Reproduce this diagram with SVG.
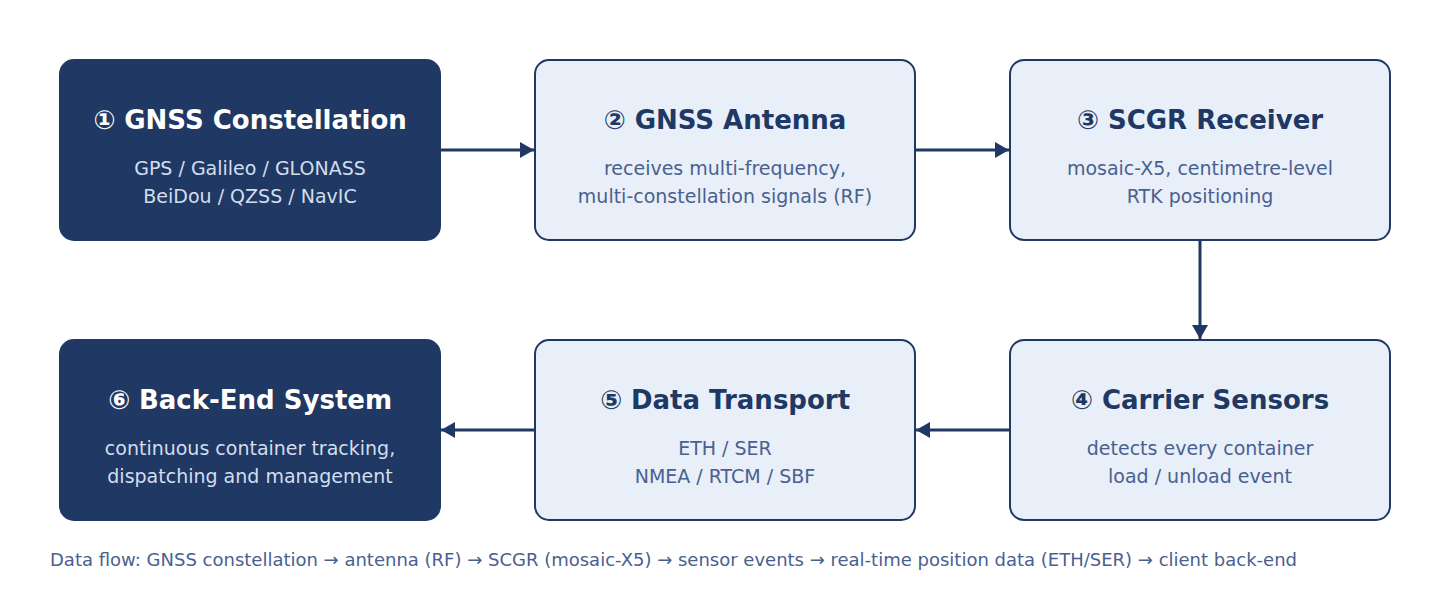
<svg xmlns="http://www.w3.org/2000/svg" width="1450" height="600" viewBox="0 0 1450 600">
<style>
.dark rect{fill:#203864;stroke:#203864;stroke-width:2}
.light rect{fill:#e8eff8;stroke:#203864;stroke-width:2}
text{font-family:"DejaVu Sans",sans-serif;text-anchor:middle}
.t{font-size:26px;font-weight:bold}
.s{font-size:19px}
.dark .t{fill:#ffffff}
.dark .s{fill:#d3deed}
.light .t{fill:#203864}
.light .s{fill:#4a6090}
.cap{font-size:18px;fill:#4a6090;text-anchor:start}
.c line{stroke:#203864;stroke-width:3}
</style>
<defs>
<marker id="ah" markerWidth="14" markerHeight="16" refX="14" refY="8" orient="auto" markerUnits="userSpaceOnUse">
<path d="M0,0 L14,8 L0,16 Z" fill="#203864"/>
</marker>
</defs>
<rect width="1450" height="600" fill="#ffffff"/>
<g id="n1" class="dark"><rect x="60" y="60" width="380" height="180" rx="14"/>
<text class="t" x="250" y="129">① GNSS Constellation</text>
<text class="s" x="250" y="175">GPS / Galileo / GLONASS</text>
<text class="s" x="250" y="203">BeiDou / QZSS / NavIC</text></g>
<g id="n2" class="light"><rect x="535" y="60" width="380" height="180" rx="14"/>
<text class="t" x="725" y="129">② GNSS Antenna</text>
<text class="s" x="725" y="175">receives multi-frequency,</text>
<text class="s" x="725" y="203">multi-constellation signals (RF)</text></g>
<g id="n3" class="light"><rect x="1010" y="60" width="380" height="180" rx="14"/>
<text class="t" x="1200" y="129">③ SCGR Receiver</text>
<text class="s" x="1200" y="175">mosaic-X5, centimetre-level</text>
<text class="s" x="1200" y="203">RTK positioning</text></g>
<g id="n4" class="light"><rect x="1010" y="340" width="380" height="180" rx="14"/>
<text class="t" x="1200" y="409">④ Carrier Sensors</text>
<text class="s" x="1200" y="455">detects every container</text>
<text class="s" x="1200" y="483">load / unload event</text></g>
<g id="n5" class="light"><rect x="535" y="340" width="380" height="180" rx="14"/>
<text class="t" x="725" y="409">⑤ Data Transport</text>
<text class="s" x="725" y="455">ETH / SER</text>
<text class="s" x="725" y="483">NMEA / RTCM / SBF</text></g>
<g id="n6" class="dark"><rect x="60" y="340" width="380" height="180" rx="14"/>
<text class="t" x="250" y="409">⑥ Back-End System</text>
<text class="s" x="250" y="455">continuous container tracking,</text>
<text class="s" x="250" y="483">dispatching and management</text></g>
<g id="connectors" class="c">
<line x1="441" y1="150" x2="534" y2="150" marker-end="url(#ah)"/>
<line x1="916" y1="150" x2="1009" y2="150" marker-end="url(#ah)"/>
<line x1="1200" y1="241" x2="1200" y2="339" marker-end="url(#ah)"/>
<line x1="1009" y1="430" x2="916" y2="430" marker-end="url(#ah)"/>
<line x1="534" y1="430" x2="441" y2="430" marker-end="url(#ah)"/>
</g>
<text class="cap" x="50" y="566">Data flow: GNSS constellation → antenna (RF) → SCGR (mosaic-X5) → sensor events → real-time position data (ETH/SER) → client back-end</text>
</svg>
